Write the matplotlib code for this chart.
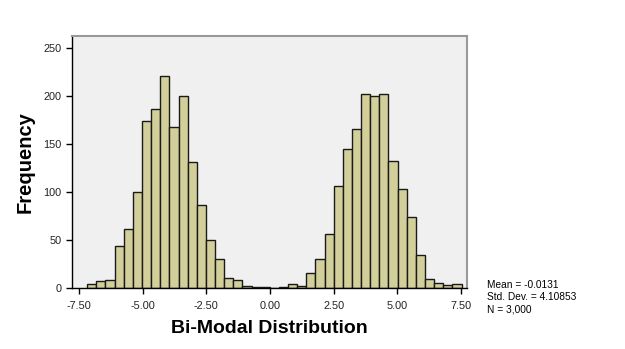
import numpy as np
import matplotlib.pyplot as plt

plt.rcParams['font.family'] = ['Liberation Sans', 'DejaVu Sans']

# histogram counts per bin, left edge of first bin and bin width
bin_start = -7.18
bin_width = 0.3587
counts = [4, 8, 9, 44, 62, 100, 174, 187, 221, 168, 200, 132, 87, 50, 30, 11, 9, 2,
          1, 1, 0, 1, 4, 2, 16, 30, 56, 107, 145, 166, 202, 200, 202, 133, 103, 74,
          35, 10, 5, 3, 4]
xticks = [-7.5, -5.0, -2.5, 0.0, 2.5, 5.0, 7.5]
yticks = [0, 50, 100, 150, 200, 250]
stats = ['Mean = -0.0131', 'Std. Dev. = 4.10853', 'N = 3,000']

edges = bin_start + bin_width * np.arange(len(counts) + 1)

fig = plt.figure(figsize=(6.25, 3.49), dpi=100)
ax = fig.add_axes([0.1147, 0.174, 0.632, 0.7237])
ax.set_facecolor('#f0f0f0')

ax.bar(edges[:-1], counts, width=bin_width, align='edge',
       color='#d3cf9a', edgecolor='#1a1a1a', linewidth=1.0)

ax.set_xlim(-7.79, 7.73)
ax.set_ylim(0, 263)
ax.set_xticks(xticks)
ax.set_xticklabels(['%.2f' % t for t in xticks])
ax.set_yticks(yticks)
ax.tick_params(labelsize=7.8, labelcolor='#222222', length=4, width=1, direction='out')
ax.tick_params(axis='x', pad=5)

for side in ['top', 'right']:
    ax.spines[side].set_color('#999999')
    ax.spines[side].set_linewidth(1.5)
for side in ['left', 'bottom']:
    ax.spines[side].set_color('black')
    ax.spines[side].set_linewidth(1)

ax.set_xlabel('Bi-Modal Distribution', fontsize=14, fontweight='bold', labelpad=7)
ax.set_ylabel('Frequency', fontsize=14.5, fontweight='bold', labelpad=6)

fig.text(487 / 625, 1 - 280 / 349, '\n'.join(stats), fontsize=7.3, va='top', ha='left',
         linespacing=1.3)

fig.savefig('out.png', dpi=100)
